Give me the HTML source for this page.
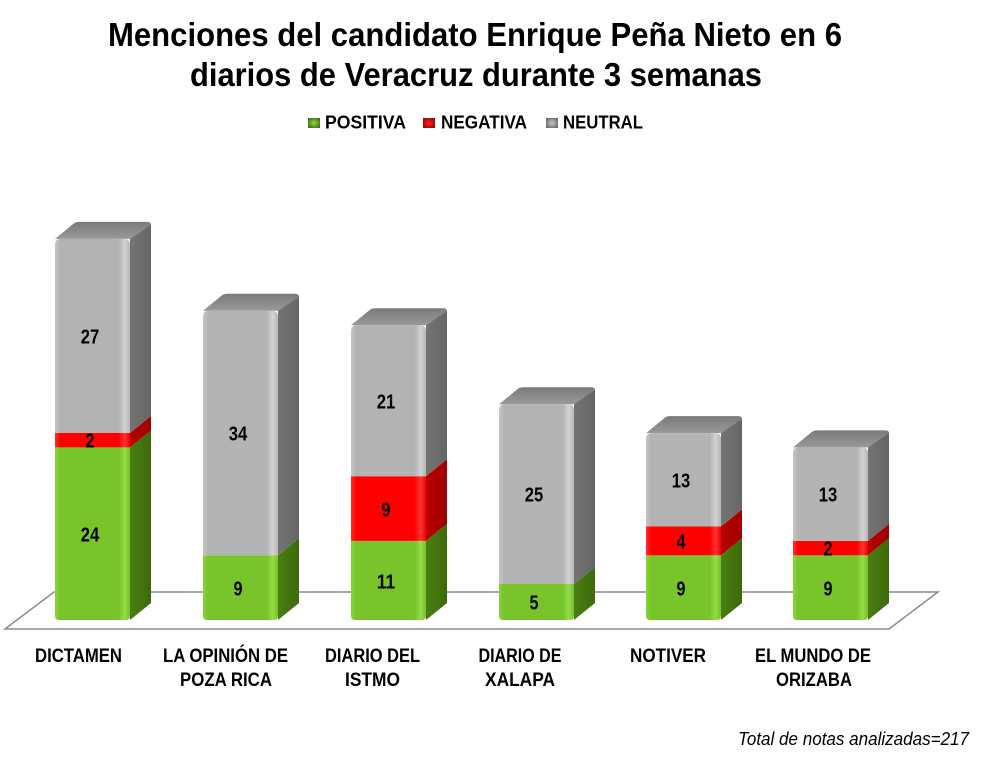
<!DOCTYPE html>
<html>
<head>
<meta charset="utf-8">
<style>
html,body{margin:0;padding:0;background:#fff;}
svg{display:block;}
text{font-family:"Liberation Sans",Arial,sans-serif;}
</style>
</head>
<body>
<svg width="981" height="765" viewBox="0 0 981 765" xmlns="http://www.w3.org/2000/svg">
<defs>
  <linearGradient id="gG" x1="0" y1="0" x2="1" y2="0">
    <stop offset="0" stop-color="#88d43c"/>
    <stop offset="0.07" stop-color="#78c42a"/>
    <stop offset="0.85" stop-color="#78c42a"/>
    <stop offset="0.93" stop-color="#94dc48"/>
    <stop offset="1" stop-color="#78c02a"/>
  </linearGradient>
  <linearGradient id="gR" x1="0" y1="0" x2="1" y2="0">
    <stop offset="0" stop-color="#ff2c2c"/>
    <stop offset="0.07" stop-color="#ff0000"/>
    <stop offset="0.85" stop-color="#ff0000"/>
    <stop offset="0.93" stop-color="#ff3434"/>
    <stop offset="1" stop-color="#f20000"/>
  </linearGradient>
  <linearGradient id="gN" x1="0" y1="0" x2="1" y2="0">
    <stop offset="0" stop-color="#c6c6c6"/>
    <stop offset="0.07" stop-color="#b3b3b3"/>
    <stop offset="0.85" stop-color="#b3b3b3"/>
    <stop offset="0.93" stop-color="#d3d3d3"/>
    <stop offset="1" stop-color="#b6b6b6"/>
  </linearGradient>
  <linearGradient id="sG" x1="0" y1="0" x2="1" y2="0">
    <stop offset="0" stop-color="#4a7e12"/>
    <stop offset="1" stop-color="#3c6a0a"/>
  </linearGradient>
  <linearGradient id="sR" x1="0" y1="0" x2="1" y2="0">
    <stop offset="0" stop-color="#b80000"/>
    <stop offset="1" stop-color="#a00000"/>
  </linearGradient>
  <linearGradient id="sN" x1="0" y1="0" x2="1" y2="0">
    <stop offset="0" stop-color="#747474"/>
    <stop offset="1" stop-color="#666666"/>
  </linearGradient>
  <linearGradient id="tN" x1="0" y1="1" x2="0" y2="0">
    <stop offset="0" stop-color="#999999"/>
    <stop offset="1" stop-color="#7a7a7a"/>
  </linearGradient>
  <radialGradient id="mG" cx="0.5" cy="0.5" r="0.6"><stop offset="0" stop-color="#8fd845"/><stop offset="1" stop-color="#3f700c"/></radialGradient>
  <radialGradient id="mR" cx="0.5" cy="0.5" r="0.6"><stop offset="0" stop-color="#ff2020"/><stop offset="1" stop-color="#a00000"/></radialGradient>
  <radialGradient id="mN" cx="0.5" cy="0.5" r="0.6"><stop offset="0" stop-color="#c8c8c8"/><stop offset="1" stop-color="#666666"/></radialGradient>
</defs>

<!-- Title -->
<text x="108" y="46" font-size="33" font-weight="bold" fill="#000" textLength="734" lengthAdjust="spacingAndGlyphs">Menciones del candidato Enrique Peña Nieto en 6</text>
<text x="190" y="86" font-size="33" font-weight="bold" fill="#000" textLength="572" lengthAdjust="spacingAndGlyphs">diarios de Veracruz durante 3 semanas</text>

<!-- Legend -->
<rect x="308" y="118" width="12" height="10" fill="url(#mG)"/>
<text x="325" y="128.5" font-size="18" font-weight="bold" textLength="81" lengthAdjust="spacingAndGlyphs">POSITIVA</text>
<rect x="423" y="118" width="12" height="10" fill="url(#mR)"/>
<text x="441" y="128.5" font-size="18" font-weight="bold" textLength="86" lengthAdjust="spacingAndGlyphs">NEGATIVA</text>
<rect x="546" y="118" width="12" height="10" fill="url(#mN)"/>
<text x="563" y="128.5" font-size="18" font-weight="bold" textLength="80" lengthAdjust="spacingAndGlyphs">NEUTRAL</text>

<!-- Floor -->
<polygon points="5,629 54,592 938,592 889,629" fill="#fff" stroke="#8c8c8c" stroke-width="1.5"/>

<!-- Bar 1 DICTAMEN x=55 -->
<g>
  <path d="M55,238.9 L74,223.4 Q76,221.9 79,221.9 L147,221.9 Q151,221.9 151,225 L151,226 L130,238.9 Z" fill="url(#tN)"/>
  <polygon points="130,620 151,603 151,430.4 130,447.4" fill="url(#sG)"/>
  <polygon points="130,447.4 151,430.4 151,416 130,433" fill="url(#sR)"/>
  <polygon points="130,433 151,416 151,225 130,238.9" fill="url(#sN)"/>
  <path d="M55,447.4 L55,616 Q55,620 59,620 L126,620 Q130,620 130,616 L130,447.4 Z" fill="url(#gG)"/>
  <rect x="55" y="433" width="75" height="14.4" fill="url(#gR)"/>
  <path d="M55,433 L55,245 Q55,238.9 61,238.9 L124,238.9 Q130,238.9 130,245 L130,433 Z" fill="url(#gN)"/>
</g>
<!-- Bar 2 LA OPINION x=203 -->
<g>
  <path d="M203,310.8 L222,295.3 Q224,293.8 227,293.8 L295,293.8 Q299,293.8 299,297 L299,298 L278,310.8 Z" fill="url(#tN)"/>
  <polygon points="278,620 299,603 299,538.3 278,555.3" fill="url(#sG)"/>
  <polygon points="278,555.3 299,538.3 299,297 278,310.8" fill="url(#sN)"/>
  <path d="M203,555.3 L203,616 Q203,620 207,620 L274,620 Q278,620 278,616 L278,555.3 Z" fill="url(#gG)"/>
  <path d="M203,555.3 L203,317 Q203,310.8 209,310.8 L272,310.8 Q278,310.8 278,317 L278,555.3 Z" fill="url(#gN)"/>
</g>
<!-- Bar 3 DIARIO DEL ISTMO x=351 -->
<g>
  <path d="M351,325.2 L370,309.7 Q372,308.2 375,308.2 L443,308.2 Q447,308.2 447,311 L447,312 L426,325.2 Z" fill="url(#tN)"/>
  <polygon points="426,620 447,603 447,523.9 426,540.9" fill="url(#sG)"/>
  <polygon points="426,540.9 447,523.9 447,459.2 426,476.2" fill="url(#sR)"/>
  <polygon points="426,476.2 447,459.2 447,311 426,325.2" fill="url(#sN)"/>
  <path d="M351,540.9 L351,616 Q351,620 355,620 L422,620 Q426,620 426,616 L426,540.9 Z" fill="url(#gG)"/>
  <rect x="351" y="476.2" width="75" height="64.7" fill="url(#gR)"/>
  <path d="M351,476.2 L351,331 Q351,325.2 357,325.2 L420,325.2 Q426,325.2 426,331 L426,476.2 Z" fill="url(#gN)"/>
</g>
<!-- Bar 4 DIARIO DE XALAPA x=499 -->
<g>
  <path d="M499,404.3 L518,388.8 Q520,387.3 523,387.3 L591,387.3 Q595,387.3 595,390 L595,391 L574,404.3 Z" fill="url(#tN)"/>
  <polygon points="574,620 595,603 595,567 574,584" fill="url(#sG)"/>
  <polygon points="574,584 595,567 595,390 574,404.3" fill="url(#sN)"/>
  <path d="M499,584 L499,616 Q499,620 503,620 L570,620 Q574,620 574,616 L574,584 Z" fill="url(#gG)"/>
  <path d="M499,584 L499,410 Q499,404.3 505,404.3 L568,404.3 Q574,404.3 574,410 L574,584 Z" fill="url(#gN)"/>
</g>
<!-- Bar 5 NOTIVER x=646 -->
<g>
  <path d="M646,433.1 L665,417.6 Q667,416.1 670,416.1 L738,416.1 Q742,416.1 742,419 L742,420 L721,433.1 Z" fill="url(#tN)"/>
  <polygon points="721,620 742,603 742,538.3 721,555.3" fill="url(#sG)"/>
  <polygon points="721,555.3 742,538.3 742,509.5 721,526.5" fill="url(#sR)"/>
  <polygon points="721,526.5 742,509.5 742,419 721,433.1" fill="url(#sN)"/>
  <path d="M646,555.3 L646,616 Q646,620 650,620 L717,620 Q721,620 721,616 L721,555.3 Z" fill="url(#gG)"/>
  <rect x="646" y="526.5" width="75" height="28.8" fill="url(#gR)"/>
  <path d="M646,526.5 L646,439 Q646,433.1 652,433.1 L715,433.1 Q721,433.1 721,439 L721,526.5 Z" fill="url(#gN)"/>
</g>
<!-- Bar 6 EL MUNDO x=793 -->
<g>
  <path d="M793,447.4 L812,431.9 Q814,430.4 817,430.4 L885,430.4 Q889,430.4 889,433 L889,434 L868,447.4 Z" fill="url(#tN)"/>
  <polygon points="868,620 889,603 889,538.3 868,555.3" fill="url(#sG)"/>
  <polygon points="868,555.3 889,538.3 889,523.9 868,540.9" fill="url(#sR)"/>
  <polygon points="868,540.9 889,523.9 889,433 868,447.4" fill="url(#sN)"/>
  <path d="M793,555.3 L793,616 Q793,620 797,620 L864,620 Q868,620 868,616 L868,555.3 Z" fill="url(#gG)"/>
  <rect x="793" y="540.9" width="75" height="14.4" fill="url(#gR)"/>
  <path d="M793,540.9 L793,453 Q793,447.4 799,447.4 L862,447.4 Q868,447.4 868,453 L868,540.9 Z" fill="url(#gN)"/>
</g>

<!-- Value labels -->
<g font-size="20.5" font-weight="bold" fill="#000" text-anchor="middle">
  <text x="90" y="541.5" textLength="18.5" lengthAdjust="spacingAndGlyphs">24</text>
  <text x="90" y="447.5" textLength="9" lengthAdjust="spacingAndGlyphs">2</text>
  <text x="90" y="343.5" textLength="18.5" lengthAdjust="spacingAndGlyphs">27</text>

  <text x="238" y="595.5" textLength="9" lengthAdjust="spacingAndGlyphs">9</text>
  <text x="238" y="440.5" textLength="18.5" lengthAdjust="spacingAndGlyphs">34</text>

  <text x="386" y="588.5" textLength="18.5" lengthAdjust="spacingAndGlyphs">11</text>
  <text x="386" y="516.5" textLength="9" lengthAdjust="spacingAndGlyphs">9</text>
  <text x="386" y="408.5" textLength="18.5" lengthAdjust="spacingAndGlyphs">21</text>

  <text x="534" y="609.5" textLength="9" lengthAdjust="spacingAndGlyphs">5</text>
  <text x="534" y="501.5" textLength="18.5" lengthAdjust="spacingAndGlyphs">25</text>

  <text x="681" y="595.5" textLength="9" lengthAdjust="spacingAndGlyphs">9</text>
  <text x="681" y="548.5" textLength="9" lengthAdjust="spacingAndGlyphs">4</text>
  <text x="681" y="487.5" textLength="18.5" lengthAdjust="spacingAndGlyphs">13</text>

  <text x="828" y="595.5" textLength="9" lengthAdjust="spacingAndGlyphs">9</text>
  <text x="828" y="555.5" textLength="9" lengthAdjust="spacingAndGlyphs">2</text>
  <text x="828" y="501.5" textLength="18.5" lengthAdjust="spacingAndGlyphs">13</text>
</g>

<!-- Category labels -->
<g font-size="19" font-weight="bold" fill="#000" text-anchor="middle">
  <text x="78.5" y="662" textLength="87" lengthAdjust="spacingAndGlyphs">DICTAMEN</text>
  <text x="225.5" y="662" textLength="125" lengthAdjust="spacingAndGlyphs">LA OPINIÓN DE</text>
  <text x="226" y="686" textLength="92" lengthAdjust="spacingAndGlyphs">POZA RICA</text>
  <text x="372.5" y="662" textLength="95" lengthAdjust="spacingAndGlyphs">DIARIO DEL</text>
  <text x="372.5" y="686" textLength="55" lengthAdjust="spacingAndGlyphs">ISTMO</text>
  <text x="520" y="662" textLength="83" lengthAdjust="spacingAndGlyphs">DIARIO DE</text>
  <text x="520" y="686" textLength="70" lengthAdjust="spacingAndGlyphs">XALAPA</text>
  <text x="668" y="662" textLength="76" lengthAdjust="spacingAndGlyphs">NOTIVER</text>
  <text x="813" y="662" textLength="116" lengthAdjust="spacingAndGlyphs">EL MUNDO DE</text>
  <text x="814" y="686" textLength="76" lengthAdjust="spacingAndGlyphs">ORIZABA</text>
</g>

<!-- Footnote -->
<text x="738" y="745" font-size="18" font-style="italic" fill="#000" textLength="231" lengthAdjust="spacingAndGlyphs">Total de notas analizadas=217</text>
</svg>
</body>
</html>
